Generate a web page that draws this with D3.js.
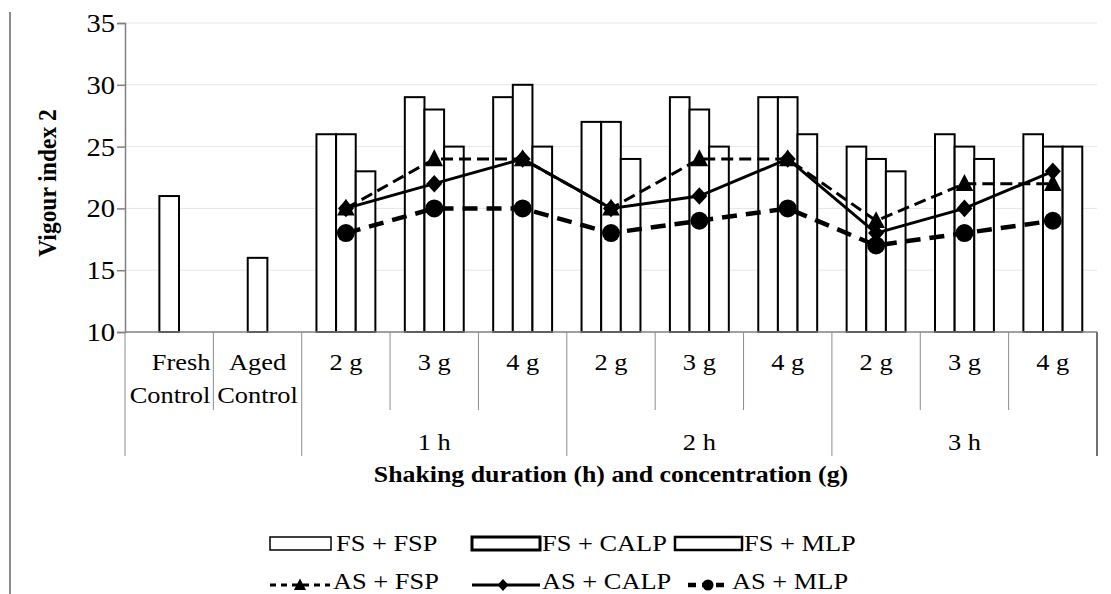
<!DOCTYPE html>
<html><head><meta charset="utf-8">
<script src="https://cdn.jsdelivr.net/npm/d3@7/dist/d3.min.js"></script>
<style>body{margin:0;background:#fff}svg{display:block}
.t{font-family:'Liberation Serif','Times New Roman',Times,'Nimbus Roman','DejaVu Serif',serif}</style>
</head><body><svg id="c" width="1111" height="594"></svg>
<script>
// ---------- data ----------
const categoryLabels = [["Fresh","Control"],["Aged","Control"],["2 g"],["3 g"],["4 g"],["2 g"],["3 g"],["4 g"],["2 g"],["3 g"],["4 g"]];
const groupLabels = ["", "1 h", "2 h", "3 h"];
const groupSizes = [2, 3, 3, 3];
const barSeries = ["FS + FSP", "FS + CALP", "FS + MLP"];
const fsFSP  = [null, null, 26, 29, 29, 27, 29, 29, 25, 26, 26];
const fsCALP = [21,   16,   26, 28, 30, 27, 28, 29, 24, 25, 25];
const fsMLP  = [null, null, 23, 25, 25, 24, 25, 26, 23, 24, 25];
const lineSeries = ["AS + FSP", "AS + CALP", "AS + MLP"];
const asFSP  = [null, null, 20, 24, 24, 20, 24, 24, 19, 22, 22];
const asCALP = [null, null, 20, 22, 24, 20, 21, 24, 18, 20, 23];
const asMLP  = [null, null, 18, 20, 20, 18, 19, 20, 17, 18, 19];
const yTicks = [10, 15, 20, 25, 30, 35];
const yTitle = "Vigour index 2";
const xTitle = "Shaking duration (h) and concentration (g)";

// ---------- layout ----------
const SX = 1.1;
const svg = d3.select("#c");
const L = 125, R = 1097, T = 23, B = 332;
const x = d3.scaleBand().domain(d3.range(categoryLabels.length)).range([L, R]).paddingInner(0).paddingOuter(0);
const y = d3.scaleLinear().domain([10, 35]).range([B, T]);
const bw = x.bandwidth() / 4.5;
const cx = i => x(i) + x.bandwidth() / 2;

function txt(g, px, py, s, size, anchor, bold, rot) {
  return g.append("text").attr("class", "t")
    .attr("transform", `translate(${px},${py}) scale(${SX},1)` + (rot ? ` rotate(${rot})` : ""))
    .attr("text-anchor", anchor || "start")
    .style("font-size", size + "px")
    .style("font-weight", bold ? "bold" : "normal")
    .attr("fill", "#000")
    .text(s);
}

// outer left border
svg.append("line").attr("x1", 10).attr("x2", 10).attr("y1", 12).attr("y2", 594)
  .attr("stroke", "#8c8c8c").attr("stroke-width", 2);

// gridlines
svg.append("g").selectAll("line").data(yTicks.filter(t => t > 10)).join("line")
  .attr("x1", L).attr("x2", R).attr("y1", d => y(d)).attr("y2", d => y(d))
  .attr("stroke", "#e6e6e6").attr("stroke-width", 1);

// y axis
const yAxis = svg.append("g").attr("transform", `translate(${L},0)`)
  .call(d3.axisLeft(y).tickValues(yTicks).tickSize(8).tickFormat(""));
yAxis.select(".domain").attr("stroke", "#808080").attr("stroke-width", 1.5);
yAxis.selectAll(".tick line").attr("stroke", "#808080").attr("stroke-width", 1.5);
const yl = svg.append("g");
yTicks.forEach(t => txt(yl, 115, y(t) + 9, String(t), 26, "end"));

// bars
const barData = [fsFSP, fsCALP, fsMLP];
const bars = svg.append("g");
barData.forEach((vals, s) => {
  bars.selectAll(null).data(vals.map((v, i) => ({v, i})).filter(d => d.v != null)).join("rect")
    .attr("x", d => x(d.i) + 0.75 * bw + s * bw)
    .attr("width", bw)
    .attr("y", d => y(d.v))
    .attr("height", d => y(10) - y(d.v))
    .attr("fill", "#fff").attr("stroke", "#000").attr("stroke-width", 2);
});

// x axis baseline and separators
svg.append("line").attr("x1", L).attr("x2", R).attr("y1", B).attr("y2", B)
  .attr("stroke", "#808080").attr("stroke-width", 1.5);
const groupEdges = [0];
groupSizes.reduce((a, n) => { groupEdges.push(a + n); return a + n; }, 0);
const sep = svg.append("g");
for (let i = 0; i <= categoryLabels.length; i++) {
  const xv = i < categoryLabels.length ? x(i) : R;
  const outer = groupEdges.includes(i);
  sep.append("line").attr("x1", xv).attr("x2", xv).attr("y1", B).attr("y2", outer ? 456 : 410)
    .attr("stroke", i === categoryLabels.length ? "#707070" : "#8c8c8c")
    .attr("stroke-width", i === categoryLabels.length ? 2 : 1);
}

// category labels
const cl = svg.append("g");
categoryLabels.forEach((lines, i) => {
  lines.forEach((s, k) => {
    if (i === 0) txt(cl, x(i + 1) - 3, 370 + k * 33, s, 24, "end");
    else txt(cl, cx(i), 370 + k * 33, s, 24, "middle");
  });
});
// group labels
const gl = svg.append("g");
groupLabels.forEach((s, gi) => {
  const a = groupEdges[gi], b = groupEdges[gi + 1];
  const xa = x(a), xb = b < categoryLabels.length ? x(b) : R;
  if (s) txt(gl, (xa + xb) / 2, 450, s, 24, "middle");
});

// axis titles
txt(svg, (L + R) / 2, 482, xTitle, 23.5, "middle", true);
txt(svg, 56, 183, yTitle, 23.5, "middle", true, -90);

// marker shapes
function marker(g, type, px, py, s) {
  if (type === "tri") {
    g.append("path").attr("d", `M${px},${py - s * 0.6}L${px + s * 0.55},${py + s * 0.45}L${px - s * 0.55},${py + s * 0.45}Z`).attr("fill", "#000");
  } else if (type === "dia") {
    g.append("path").attr("d", `M${px},${py - s * 0.55}L${px + s * 0.5},${py}L${px},${py + s * 0.55}L${px - s * 0.5},${py}Z`).attr("fill", "#000");
  } else {
    g.append("circle").attr("cx", px).attr("cy", py).attr("r", s / 2).attr("fill", "#000");
  }
}

// lines
const lineData = [asFSP, asCALP, asMLP];
const lineStyle = [
  {dash: "12,6", w: 3, m: "tri", ms: 16},
  {dash: null, w: 3, m: "dia", ms: 16},
  {dash: "15,9", w: 4.5, m: "cir", ms: 18}
];
const lineGen = d3.line().defined(d => d.v != null).x(d => cx(d.i)).y(d => y(d.v));
const lg = svg.append("g");
lineData.forEach((vals, s) => {
  const st = lineStyle[s];
  const pts = vals.map((v, i) => ({v, i}));
  lg.append("path").attr("d", lineGen(pts)).attr("fill", "none").attr("stroke", "#000")
    .attr("stroke-width", st.w).attr("stroke-dasharray", st.dash);
});
lineData.forEach((vals, s) => {
  const st = lineStyle[s];
  vals.forEach((v, i) => { if (v != null) marker(lg, st.m, cx(i), y(v), st.ms); });
});

// legend
const leg = svg.append("g");
const swX = [270, 472, 675], swW = [61, 68, 67], swSW = [1.5, 3, 2.5];
const txX1 = [336, 542, 744];
barSeries.forEach((s, k) => {
  leg.append("rect").attr("x", swX[k]).attr("y", 537).attr("width", swW[k]).attr("height", 13)
    .attr("fill", "#fff").attr("stroke", "#000").attr("stroke-width", swSW[k]);
  txt(leg, txX1[k], 551, s, 24, "start");
});
const lnX = [[270, 330], [472, 540], [688, 724]], mX = [300, 503, 708], txX2 = [333, 542, 732];
lineSeries.forEach((s, k) => {
  const st = lineStyle[k];
  leg.append("line").attr("x1", lnX[k][0]).attr("x2", lnX[k][1]).attr("y1", 585).attr("y2", 585)
    .attr("stroke", "#000").attr("stroke-width", st.w).attr("stroke-dasharray", k === 0 ? "6,5" : (k === 2 ? "8,6" : null));
  marker(leg, st.m, mX[k], 585, 11);
  txt(leg, txX2[k], 589, s, 24, "start");
});
</script></body></html>
